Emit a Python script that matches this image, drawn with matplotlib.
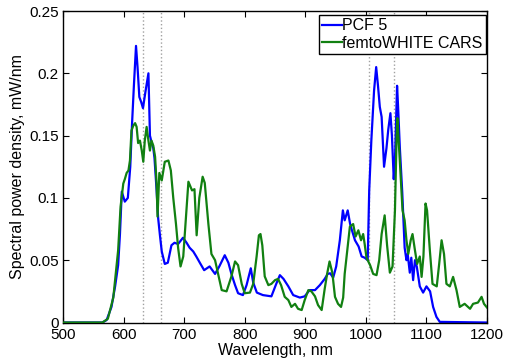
import matplotlib
matplotlib.use('Agg')
import matplotlib.pyplot as plt

plt.rcParams['font.family'] = ['Liberation Sans', 'DejaVu Sans']

# PCF 5 spectrum
pcf_wl = [500, 545, 565, 572, 580, 586, 591, 594, 597, 602, 607, 611, 614, 617, 620.5, 623, 626, 629, 632,
          636, 641, 643.5, 646, 649, 651, 654.5, 657, 660, 663, 668, 673, 679, 684, 690, 698, 704, 709, 715,
          720, 727, 733, 742, 751, 758, 767, 773, 778, 784, 789, 797, 803, 810, 814, 820, 830, 844, 852, 858,
          864, 872, 880, 891, 899, 907, 916, 924, 932, 937, 941, 946, 951, 957, 962, 965, 970, 974, 977, 982,
          988, 993, 998, 1003, 1005.5, 1009, 1013.5, 1017, 1020, 1023, 1026, 1030, 1034, 1037, 1040.5, 1043,
          1046, 1048, 1051.5, 1053, 1056, 1060, 1064, 1067, 1069, 1072.5, 1075, 1078, 1081, 1084, 1089,
          1094.5, 1100, 1106, 1111, 1116.5, 1122, 1200]
pcf_p = [0, 0, 0, 0.002, 0.0125, 0.029, 0.046, 0.071, 0.105, 0.097, 0.1, 0.125, 0.16, 0.19, 0.222, 0.205,
         0.181, 0.177, 0.172, 0.185, 0.2, 0.15, 0.145, 0.14, 0.132, 0.106, 0.084, 0.07, 0.057, 0.047, 0.048,
         0.062, 0.064, 0.063, 0.068, 0.064, 0.06, 0.057, 0.053, 0.047, 0.042, 0.045, 0.039, 0.045, 0.054,
         0.048, 0.039, 0.03, 0.0235, 0.022, 0.03, 0.0435, 0.032, 0.024, 0.022, 0.021, 0.031, 0.038, 0.035,
         0.029, 0.022, 0.02, 0.021, 0.026, 0.026, 0.03, 0.035, 0.039, 0.0395, 0.036, 0.045, 0.066, 0.09,
         0.082, 0.09, 0.079, 0.074, 0.066, 0.061, 0.053, 0.052, 0.05, 0.106, 0.146, 0.186, 0.205, 0.19,
         0.173, 0.165, 0.125, 0.14, 0.155, 0.168, 0.15, 0.115, 0.13, 0.19, 0.175, 0.141, 0.105, 0.06, 0.05,
         0.055, 0.04, 0.052, 0.034, 0.05, 0.045, 0.029, 0.024, 0.029, 0.025, 0.0125, 0.0045, 0.0005, 0]

# femtoWHITE CARS spectrum
fw_wl = [500, 565, 574, 583, 591, 595, 599.5, 602, 605, 608, 610.5, 613, 616, 619, 621.5, 624, 627, 630,
         632.5, 635, 638, 641, 643.5, 646, 649, 652, 654.5, 656, 659, 663, 668, 674, 678, 682, 686.5, 690,
         694, 698.5, 703, 707, 713, 717, 720.6, 725, 730.5, 734, 740, 745, 751, 756, 762, 770, 778, 784,
         789, 795, 800, 808.6, 814, 819.6, 823.4, 826, 829, 833, 839, 844, 850, 855, 860, 866, 872, 877,
         883, 888, 894, 899, 905, 910, 916, 921, 927, 932, 936, 940, 944.6, 949, 954, 959, 962.5, 965, 970,
         973.6, 979, 983, 987.6, 992, 995.5, 998, 1001, 1007, 1012, 1017.6, 1022, 1026, 1031, 1035, 1039.6,
         1044, 1048, 1050.6, 1052, 1056, 1060.5, 1064, 1067, 1070, 1074, 1077, 1081, 1084.6, 1089, 1092,
         1095, 1098.5, 1101, 1105.6, 1110, 1117, 1121, 1125, 1129, 1133, 1138.6, 1144, 1149.6, 1155, 1163,
         1172, 1177, 1185, 1191, 1195, 1200]
fw_p = [0, 0, 0.003, 0.02, 0.058, 0.093, 0.1115, 0.115, 0.12, 0.122, 0.13, 0.154, 0.158, 0.16, 0.157,
        0.144, 0.146, 0.138, 0.129, 0.146, 0.157, 0.146, 0.138, 0.146, 0.142, 0.133, 0.1115, 0.085, 0.12,
        0.114, 0.129, 0.13, 0.122, 0.1, 0.079, 0.06, 0.045, 0.053, 0.085, 0.113, 0.106, 0.107, 0.07, 0.1,
        0.117, 0.112, 0.079, 0.055, 0.05, 0.039, 0.026, 0.025, 0.037, 0.049, 0.046, 0.031, 0.0235, 0.024,
        0.031, 0.053, 0.07, 0.071, 0.062, 0.037, 0.03, 0.031, 0.034, 0.035, 0.03, 0.0206, 0.018, 0.0125,
        0.015, 0.011, 0.01, 0.018, 0.026, 0.025, 0.021, 0.014, 0.01, 0.027, 0.039, 0.049, 0.04, 0.0206,
        0.015, 0.0125, 0.02, 0.039, 0.061, 0.077, 0.079, 0.069, 0.074, 0.066, 0.071, 0.063, 0.052, 0.046,
        0.039, 0.038, 0.05, 0.071, 0.086, 0.062, 0.04, 0.045, 0.09, 0.146, 0.164, 0.13, 0.09, 0.082, 0.066,
        0.055, 0.066, 0.071, 0.058, 0.047, 0.053, 0.0366, 0.053, 0.0955, 0.09, 0.058, 0.031, 0.029, 0.047,
        0.066, 0.055, 0.031, 0.029, 0.0366, 0.026, 0.0125, 0.015, 0.011, 0.015, 0.016, 0.0206, 0.015, 0.012]

marker_lines = [632, 662, 1005, 1046]

fig = plt.figure(figsize=(5.05, 3.62), dpi=100)
ax = fig.add_axes([0.1248, 0.1091, 0.8396, 0.8605])

for w in marker_lines:
    ax.axvline(w, color='#a0a0a0', linestyle=':', linewidth=1.0, zorder=1)

ax.plot(pcf_wl, pcf_p, color='#0000ff', linewidth=1.6, label='PCF 5', zorder=2)
ax.plot(fw_wl, fw_p, color='#118011', linewidth=1.6, label='femtoWHITE CARS', zorder=3)

ax.set_xlim(500, 1200)
ax.set_ylim(0, 0.25)
ax.set_xticks([500, 600, 700, 800, 900, 1000, 1100, 1200])
ax.set_yticks([0, 0.05, 0.1, 0.15, 0.2, 0.25])
ax.set_yticklabels(['0', '0.05', '0.1', '0.15', '0.2', '0.25'])
ax.tick_params(direction='in', top=True, right=True, length=4, labelsize=11, pad=3)
ax.tick_params(axis='x', pad=4)
for s in ax.spines.values():
    s.set_linewidth(1.0)

ax.set_xlabel('Wavelength, nm', fontsize=11.5, labelpad=1)
ax.set_ylabel('Spectral power density, mW/nm', fontsize=11.5, labelpad=3)

leg = ax.legend(loc='upper right', bbox_to_anchor=(486 / 505, 1 - 15 / 362), bbox_transform=fig.transFigure,
                fontsize=11.5, frameon=True, fancybox=False, framealpha=1, edgecolor='black',
                handlelength=1.2, handletextpad=0.05, borderpad=0.2, labelspacing=0.15, borderaxespad=0)
leg.get_frame().set_linewidth(1.0)

fig.savefig('out.png', dpi=100)
